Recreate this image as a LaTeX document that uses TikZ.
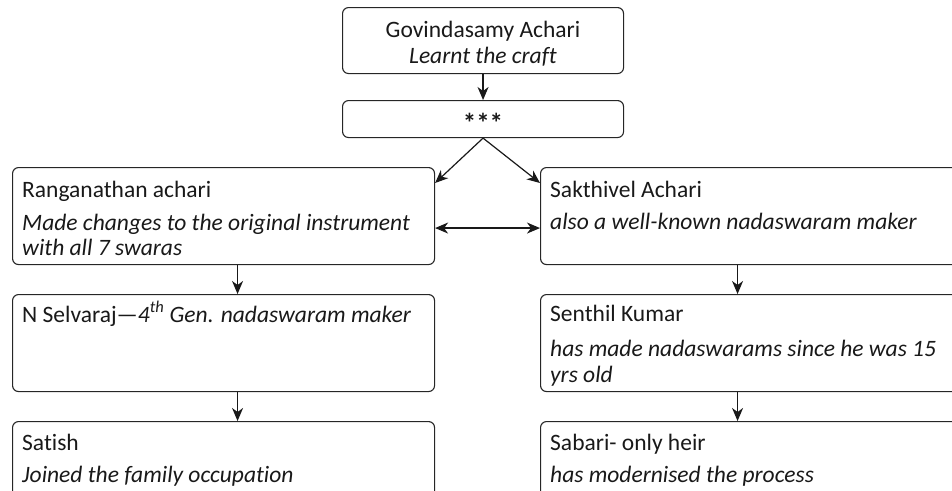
\documentclass[tikz,border=0pt]{standalone}
\usepackage{fontspec}
\setmainfont{Carlito}[Ligatures=NoCommon]
\usetikzlibrary{arrows.meta}
\begin{document}
\begin{tikzpicture}[x=1pt,y=-1pt,
  box/.style={draw=black!85, line width=1.1pt, rounded corners=6pt, inner sep=0pt, anchor=north west},
  txt/.style={inner sep=0pt, anchor=base west, font=\fontsize{23.5}{26}\selectfont, text=black!90},
  ctxt/.style={txt, anchor=base},
  tip/.tip={Stealth[length=13pt,width=11pt,inset=4pt]},
  arr/.style={draw=black!90, line width=1.2pt, -tip},
  darr/.style={draw=black!90, line width=1.2pt, tip-tip},
]
\useasboundingbox (0,0) rectangle (952,490);
\clip (0,0) rectangle (952,490);

% boxes
\node[box, minimum width=281pt, minimum height=66pt] (g) at (342,7) {};
\node[box, minimum width=281pt, minimum height=37pt] (st) at (342,100) {};
\node[box, minimum width=422pt, minimum height=97pt] (r) at (12,167) {};
\node[box, minimum width=422pt, minimum height=97pt] (s) at (540,167) {};
\node[box, minimum width=422pt, minimum height=97pt] (ns) at (12,294) {};
\node[box, minimum width=422pt, minimum height=97pt] (sk) at (540,294) {};
\node[box, minimum width=422pt, minimum height=100pt] (sat) at (12,421) {};
\node[box, minimum width=422pt, minimum height=100pt] (sab) at (540,421) {};

% texts
\node[ctxt] (g1) at (483,37) {Govindasamy Achari};
\node[ctxt] (g2) at (483,63) {\itshape Learnt the craft};
\node[txt, anchor=center, font=\fontsize{27}{27}\selectfont\bfseries] (st1) at (483,123) {***};

\node[txt] (r1) at (22,197) {Ranganathan achari};
\node[txt] (r2) at (22,230) {\itshape Made changes to the original instrument};
\node[txt] (r3) at (22,255) {\itshape with all 7 swaras};

\node[txt] (s1) at (550,197) {Sakthivel Achari};
\node[txt] (s2) at (550,229) {\itshape also a well-known nadaswaram maker};

\node[txt] (ns1) at (22,322) {N Selvaraj—\textit{4\textsuperscript{th} Gen. nadaswaram maker}};

\node[txt] (sk1) at (550,321) {Senthil Kumar};
\node[txt] (sk2) at (550,356) {\itshape has made nadaswarams since he was 15};
\node[txt] (sk3) at (550,382) {\itshape yrs old};

\node[txt] (sat1) at (22,450) {Satish};
\node[txt] (sat2) at (22,482) {\itshape Joined the family occupation};

\node[txt] (sab1) at (550,450) {Sabari- only heir};
\node[txt] (sab2) at (550,482) {\itshape has modernised the process};

% connectors
\draw[arr] (g.south) -- (st.north);
\draw[arr] (st.south) -- ([yshift=-16pt]r.north east);
\draw[arr] (st.south) -- ([yshift=-16pt]s.north west);
\draw[darr] ([yshift=-12pt]r.east) -- ([yshift=-12pt]s.west);
\draw[arr] ([xshift=14pt]r.south) -- ([xshift=14pt]ns.north);
\draw[arr] ([xshift=14pt]ns.south) -- ([xshift=14pt]sat.north);
\draw[arr] ([xshift=-14pt]s.south) -- ([xshift=-14pt]sk.north);
\draw[arr] ([xshift=-14pt]sk.south) -- ([xshift=-14pt]sab.north);
\end{tikzpicture}
\end{document}
